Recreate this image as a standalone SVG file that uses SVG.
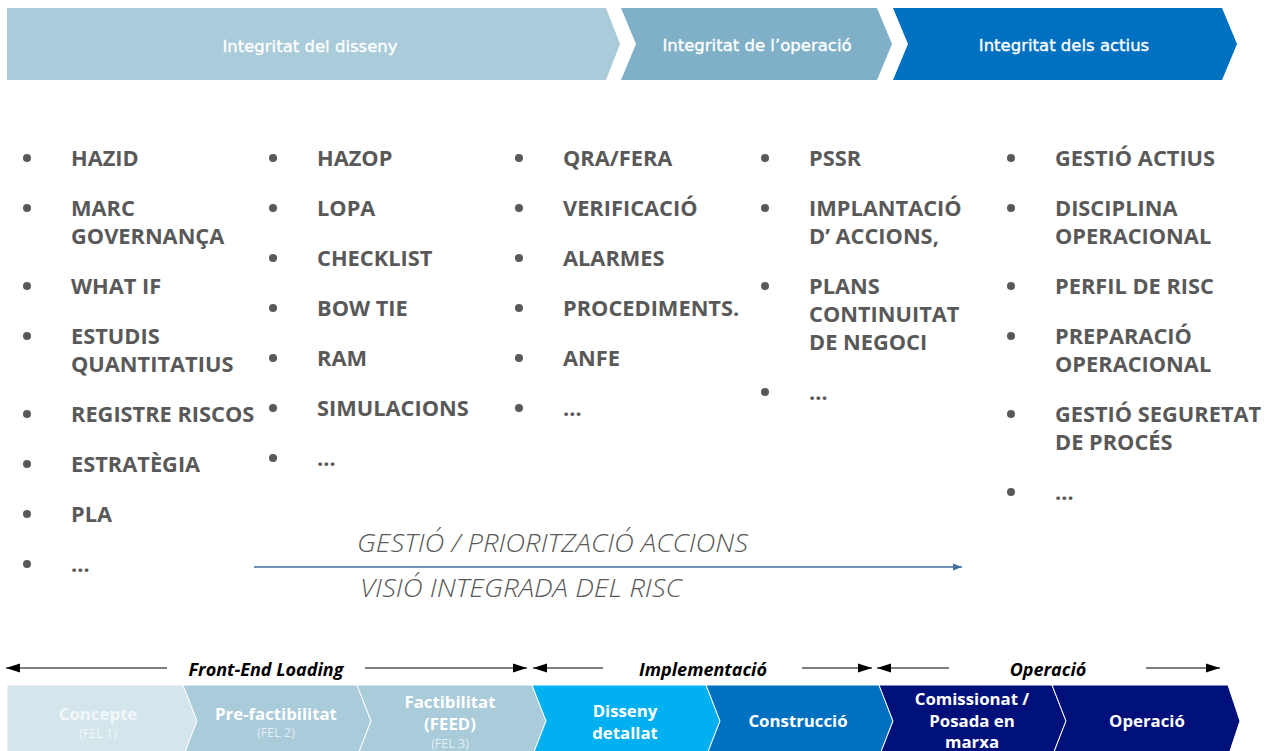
<svg xmlns="http://www.w3.org/2000/svg" width="1271" height="751" viewBox="0 0 1271 751">
  <defs>
    <style>
      .hdr { font-family: "DejaVu Sans", sans-serif; font-size: 16.5px; fill: #ffffff; stroke: #ffffff; stroke-width: 0.35; text-anchor: middle; }
      .item { font-family: "Open Sans", "Liberation Sans", sans-serif; font-weight: 700; font-size: 21.8px; fill: #595959; }
      .dot { fill: #595959; }
      .theme { font-family: "Open Sans", "Liberation Sans", sans-serif; font-style: italic; font-weight: 300; font-size: 26px; fill: #595959; }
      .phase { font-family: "Open Sans", "Liberation Sans", sans-serif; font-style: italic; font-weight: 700; font-size: 18px; fill: #000000; text-anchor: middle; }
      .stage { font-family: "Open Sans", "Liberation Sans", sans-serif; font-weight: 700; font-size: 16.8px; fill: #ffffff; text-anchor: middle; }
      .fel { font-family: "Open Sans", "Liberation Sans", sans-serif; font-weight: 400; font-size: 12.5px; fill: #ffffff; text-anchor: middle; }
      .tl { stroke: #000000; stroke-width: 1.2; fill: none; }
      .chev { stroke: #ffffff; stroke-width: 1; }
    </style>
    <marker id="ah" viewBox="0 0 14 10" refX="14" refY="5" markerWidth="14" markerHeight="10" markerUnits="userSpaceOnUse" orient="auto-start-reverse">
      <path d="M0,0.5 L14,5 L0,9.5 Z" fill="#000000"/>
    </marker>
    <marker id="ahBlue" viewBox="0 0 10 10" refX="10" refY="5" markerWidth="9" markerHeight="9" markerUnits="userSpaceOnUse" orient="auto">
      <path d="M0,1 L10,5 L0,9 Z" fill="#41719C"/>
    </marker>
  </defs>

  <rect width="1271" height="751" fill="#ffffff"/>

  <!-- Integrity bands -->
  <g id="band-disseny">
    <path d="M7,8 H606 L620,44 L606,80 H7 Z" fill="#A9CBDA"/>
    <text class="hdr" x="310" y="52">Integritat del disseny</text>
  </g>
  <g id="band-operacio">
    <path d="M621,8 H877 L892,44 L877,80 H621 L636,44 Z" fill="#7FB0C8"/>
    <text class="hdr" x="757" y="51">Integritat de l’operació</text>
  </g>
  <g id="band-actius">
    <path d="M893,8 H1222 L1237,44 L1222,80 H893 L908,44 Z" fill="#0070C0"/>
    <text class="hdr" x="1064" y="51">Integritat dels actius</text>
  </g>

  <!-- Column 1 -->
  <g id="col-1">
    <circle class="dot" cx="27" cy="158" r="4"/><text class="item" x="71" y="166">HAZID</text>
    <circle class="dot" cx="27" cy="208" r="4"/><text class="item" x="71" y="216">MARC</text>
    <text class="item" x="71" y="244">GOVERNANÇA</text>
    <circle class="dot" cx="27" cy="286" r="4"/><text class="item" x="71" y="294">WHAT IF</text>
    <circle class="dot" cx="27" cy="336" r="4"/><text class="item" x="71" y="344">ESTUDIS</text>
    <text class="item" x="71" y="372">QUANTITATIUS</text>
    <circle class="dot" cx="27" cy="414" r="4"/><text class="item" x="71" y="422">REGISTRE RISCOS</text>
    <circle class="dot" cx="27" cy="464" r="4"/><text class="item" x="71" y="472">ESTRATÈGIA</text>
    <circle class="dot" cx="27" cy="514" r="4"/><text class="item" x="71" y="522">PLA</text>
    <circle class="dot" cx="27" cy="564" r="4"/><text class="item" x="71" y="572">…</text>
  </g>

  <!-- Column 2 -->
  <g id="col-2">
    <circle class="dot" cx="273" cy="158" r="4"/><text class="item" x="317" y="166">HAZOP</text>
    <circle class="dot" cx="273" cy="208" r="4"/><text class="item" x="317" y="216">LOPA</text>
    <circle class="dot" cx="273" cy="258" r="4"/><text class="item" x="317" y="266">CHECKLIST</text>
    <circle class="dot" cx="273" cy="308" r="4"/><text class="item" x="317" y="316">BOW TIE</text>
    <circle class="dot" cx="273" cy="358" r="4"/><text class="item" x="317" y="366">RAM</text>
    <circle class="dot" cx="273" cy="408" r="4"/><text class="item" x="317" y="416">SIMULACIONS</text>
    <circle class="dot" cx="273" cy="458" r="4"/><text class="item" x="317" y="466">…</text>
  </g>

  <!-- Column 3 -->
  <g id="col-3">
    <circle class="dot" cx="519" cy="158" r="4"/><text class="item" x="563" y="166">QRA/FERA</text>
    <circle class="dot" cx="519" cy="208" r="4"/><text class="item" x="563" y="216">VERIFICACIÓ</text>
    <circle class="dot" cx="519" cy="258" r="4"/><text class="item" x="563" y="266">ALARMES</text>
    <circle class="dot" cx="519" cy="308" r="4"/><text class="item" x="563" y="316">PROCEDIMENTS.</text>
    <circle class="dot" cx="519" cy="358" r="4"/><text class="item" x="563" y="366">ANFE</text>
    <circle class="dot" cx="519" cy="408" r="4"/><text class="item" x="563" y="416">…</text>
  </g>

  <!-- Column 4 -->
  <g id="col-4">
    <circle class="dot" cx="765" cy="158" r="4"/><text class="item" x="809" y="166">PSSR</text>
    <circle class="dot" cx="765" cy="208" r="4"/><text class="item" x="809" y="216">IMPLANTACIÓ</text>
    <text class="item" x="809" y="244">D’ ACCIONS,</text>
    <circle class="dot" cx="765" cy="286" r="4"/><text class="item" x="809" y="294">PLANS</text>
    <text class="item" x="809" y="322">CONTINUITAT</text>
    <text class="item" x="809" y="350">DE NEGOCI</text>
    <circle class="dot" cx="765" cy="392" r="4"/><text class="item" x="809" y="400">…</text>
  </g>

  <!-- Column 5 -->
  <g id="col-5">
    <circle class="dot" cx="1011" cy="158" r="4"/><text class="item" x="1055" y="166">GESTIÓ ACTIUS</text>
    <circle class="dot" cx="1011" cy="208" r="4"/><text class="item" x="1055" y="216">DISCIPLINA</text>
    <text class="item" x="1055" y="244">OPERACIONAL</text>
    <circle class="dot" cx="1011" cy="286" r="4"/><text class="item" x="1055" y="294">PERFIL DE RISC</text>
    <circle class="dot" cx="1011" cy="336" r="4"/><text class="item" x="1055" y="344">PREPARACIÓ</text>
    <text class="item" x="1055" y="372">OPERACIONAL</text>
    <circle class="dot" cx="1011" cy="414" r="4"/><text class="item" x="1055" y="422">GESTIÓ SEGURETAT</text>
    <text class="item" x="1055" y="450">DE PROCÉS</text>
    <circle class="dot" cx="1011" cy="492" r="4"/><text class="item" x="1055" y="500">…</text>
  </g>

  <!-- Connectors -->
  <g id="connectors">
    <line x1="254" y1="567" x2="962" y2="567" stroke="#41719C" stroke-width="1.5" marker-end="url(#ahBlue)"/>
    <line class="tl" x1="6" y1="668" x2="167" y2="668" marker-start="url(#ah)"/>
    <line class="tl" x1="365" y1="668" x2="527" y2="668" marker-end="url(#ah)"/>
    <line class="tl" x1="533" y1="668" x2="603" y2="668" marker-start="url(#ah)"/>
    <line class="tl" x1="802" y1="668" x2="872" y2="668" marker-end="url(#ah)"/>
    <line class="tl" x1="877" y1="668" x2="949" y2="668" marker-start="url(#ah)"/>
    <line class="tl" x1="1146" y1="668" x2="1220" y2="668" marker-end="url(#ah)"/>
  </g>

  <g id="theme-labels">
    <text class="theme" x="357" y="552" textLength="391" lengthAdjust="spacingAndGlyphs">GESTIÓ / PRIORITZACIÓ ACCIONS</text>
    <text class="theme" x="360" y="597" textLength="322" lengthAdjust="spacingAndGlyphs">VISIÓ INTEGRADA DEL RISC</text>
  </g>

  <g id="phase-labels">
    <text class="phase" x="266" y="676">Front-End Loading</text>
    <text class="phase" x="703" y="676">Implementació</text>
    <text class="phase" x="1048" y="676">Operació</text>
  </g>

  <!-- Project stages -->
  <g id="stage-concepte">
    <path class="chev" d="M7,685 H183 L197,721 L183,757 H7 Z" fill="#D4E5EC"/>
    <text class="stage" x="98" y="720" style="fill:#F2F7F9">Concepte</text>
    <text class="fel" x="98" y="738" style="fill:#F2F7F9">(FEL 1)</text>
  </g>
  <g id="stage-prefactibilitat">
    <path class="chev" d="M183,685 H357 L371,721 L357,757 H183 L197,721 Z" fill="#A9CBDA"/>
    <text class="stage" x="276" y="720">Pre-factibilitat</text>
    <text class="fel" x="276" y="737" style="fill:#E4EEF3">(FEL 2)</text>
  </g>
  <g id="stage-factibilitat">
    <path class="chev" d="M357,685 H532 L546,721 L532,757 H357 L371,721 Z" fill="#A9CBDA"/>
    <text class="stage" x="450" y="708">Factibilitat</text>
    <text class="stage" x="450" y="730">(FEED)</text>
    <text class="fel" x="450" y="748" style="fill:#E4EEF3">(FEL 3)</text>
  </g>
  <g id="stage-disseny">
    <path class="chev" d="M532,685 H706 L720,721 L706,757 H532 L546,721 Z" fill="#00B0F0"/>
    <text class="stage" x="625" y="717">Disseny</text>
    <text class="stage" x="625" y="739">detallat</text>
  </g>
  <g id="stage-construccio">
    <path class="chev" d="M706,685 H879 L893,721 L879,757 H706 L720,721 Z" fill="#0070C0"/>
    <text class="stage" x="798" y="727">Construcció</text>
  </g>
  <g id="stage-comissionat">
    <path class="chev" d="M879,685 H1052 L1066,721 L1052,757 H879 L893,721 Z" fill="#00107A"/>
    <text class="stage" x="972" y="705">Comissionat /</text>
    <text class="stage" x="972" y="727">Posada en</text>
    <text class="stage" x="972" y="748">marxa</text>
  </g>
  <g id="stage-operacio">
    <path class="chev" d="M1052,685 H1228 L1240,721 L1228,757 H1052 L1066,721 Z" fill="#00107A"/>
    <text class="stage" x="1147" y="727">Operació</text>
  </g>
</svg>
